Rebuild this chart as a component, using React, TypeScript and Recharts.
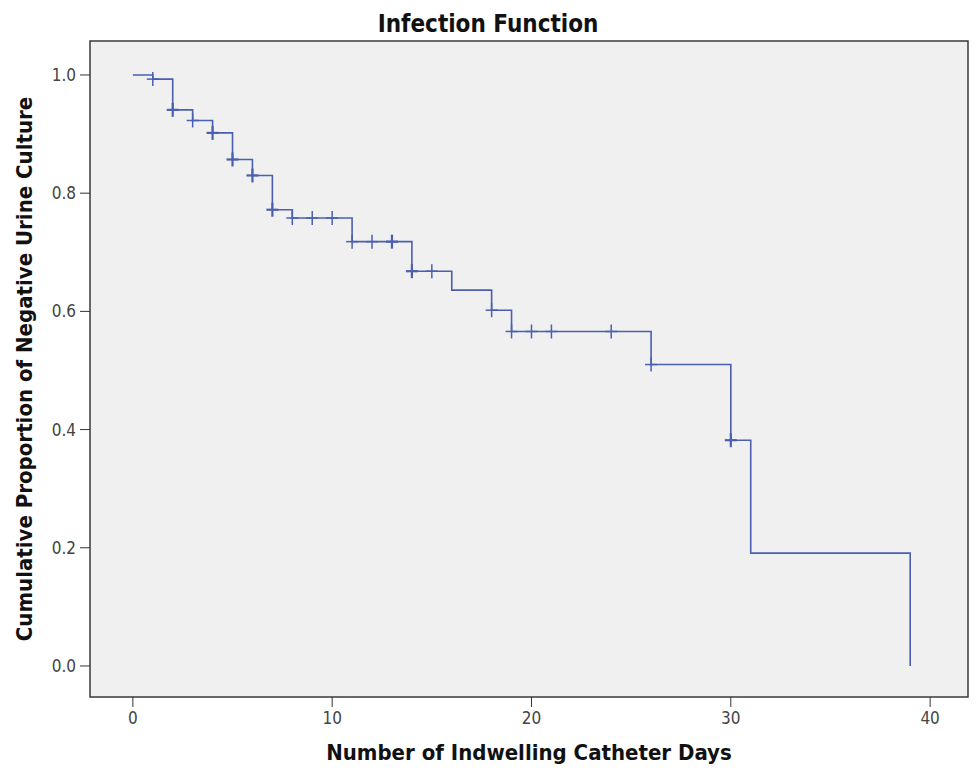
import { ComposedChart, Line, Scatter, XAxis, YAxis, ReferenceArea, Label } from 'recharts';

// Kaplan-Meier style step values
const stepDays = [0, 1, 2, 3, 4, 5, 6, 7, 8, 11, 14, 16, 18, 19, 26, 30, 31, 39];
const stepSurvival = [1.0, 0.993, 0.941, 0.923, 0.902, 0.857, 0.83, 0.772, 0.758, 0.718, 0.668, 0.636, 0.602, 0.566, 0.51, 0.382, 0.191, 0.0];

// censored cases (the little "+" marks)
const censorDays = [1, 2, 3, 4, 5, 6, 7, 8, 9, 10, 11, 12, 13, 14, 15, 18, 19, 20, 21, 24, 26, 30];
const censorHeavy = [2, 4, 5, 6, 7, 13, 14, 30];

const xTicks = [0, 10, 20, 30, 40];
const yTicks = [0, 0.2, 0.4, 0.6, 0.8, 1.0];

const LINE_COLOR = '#4a5fb0';
const FONT = '"DejaVu Sans Condensed", "DejaVu Sans", sans-serif';

// survival value of the step function at a given day
function survivalAt(day: number): number {
  let v = stepSurvival[0];
  for (let i = 0; i < stepDays.length; i++) {
    if (stepDays[i] <= day) v = stepSurvival[i];
  }
  return v;
}

const stepData = stepDays.map((day, i) => ({ day, surv: stepSurvival[i] }));
const censorData = censorDays.map((day) => ({
  day,
  surv: survivalAt(day),
  heavy: censorHeavy.includes(day),
}));

const X_DOMAIN: [number, number] = [-2.15, 41.9];
const Y_DOMAIN: [number, number] = [-0.0525, 1.0575];

// "+" marker for censored observations
const CensorMark = (props: any) => {
  const { cx, cy, payload } = props;
  const w = payload?.heavy ? 2.2 : 1.5;
  return (
    <g stroke={LINE_COLOR} strokeWidth={w}>
      <line x1={cx} y1={cy - 7} x2={cx} y2={cy + 7} />
      <line x1={cx - 6} y1={cy} x2={cx + 6} y2={cy} />
    </g>
  );
};

export default function App() {
  return (
    <div style={{ position: 'relative', width: 976, height: 769, background: '#fff' }}>
      <style>{`body { margin: 0; }`}</style>
      <div
        style={{
          position: 'absolute',
          top: 10,
          left: 0,
          width: 976,
          textAlign: 'center',
          fontFamily: FONT,
          fontWeight: 'bold',
          fontSize: 24,
          lineHeight: '28px',
          color: '#111',
        }}
      >
        Infection Function
      </div>
      <ComposedChart width={976} height={769} margin={{ top: 41, right: 8, bottom: 0, left: 0 }}>
        <XAxis
          dataKey="day"
          type="number"
          domain={X_DOMAIN}
          ticks={xTicks}
          allowDataOverflow
          axisLine={false}
          tickSize={10}
          tickMargin={5}
          height={72}
          stroke="#333"
          tick={{ fill: '#444', fontSize: 17, fontFamily: FONT }}
        >
          <Label
            value="Number of Indwelling Catheter Days"
            position="insideBottom"
            offset={9}
            style={{ fill: '#111', fontSize: 22, fontWeight: 'bold', fontFamily: FONT }}
          />
        </XAxis>
        <YAxis
          type="number"
          domain={Y_DOMAIN}
          ticks={yTicks}
          allowDataOverflow
          axisLine={false}
          tickSize={10}
          tickMargin={4}
          width={90}
          stroke="#333"
          tickFormatter={(v: number) => v.toFixed(1)}
          tick={{ fill: '#444', fontSize: 17, fontFamily: FONT }}
        >
          <Label
            value="Cumulative Proportion of Negative Urine Culture"
            angle={-90}
            position="insideLeft"
            offset={24}
            style={{ textAnchor: 'middle', fill: '#111', fontSize: 22, fontWeight: 'bold', fontFamily: FONT }}
          />
        </YAxis>
        <ReferenceArea
          x1={X_DOMAIN[0]}
          x2={X_DOMAIN[1]}
          y1={Y_DOMAIN[0]}
          y2={Y_DOMAIN[1]}
          fill="#f0f0f0"
          fillOpacity={1}
          stroke="#3a3a3a"
          strokeWidth={1.5}
        />
        <Line
          data={stepData}
          dataKey="surv"
          type="stepAfter"
          stroke={LINE_COLOR}
          strokeWidth={1.6}
          dot={false}
          activeDot={false}
          isAnimationActive={false}
        />
        <Scatter
          data={censorData}
          dataKey="surv"
          shape={<CensorMark />}
          isAnimationActive={false}
        />
      </ComposedChart>
    </div>
  );
}
